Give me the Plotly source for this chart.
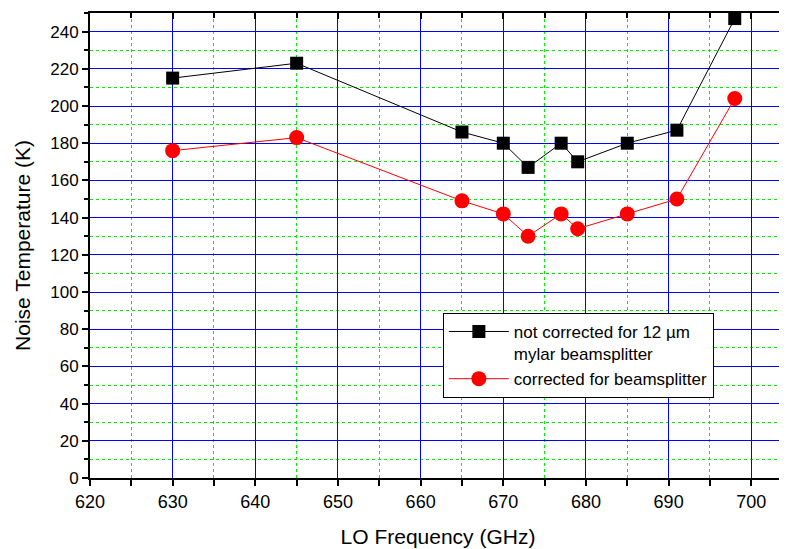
import plotly.graph_objects as go

freq = [630, 645, 665, 670, 673, 677, 679, 685, 691, 698]
not_corrected = [215, 223, 186, 180, 167, 180, 170, 180, 187, 247]
corrected = [176, 183, 149, 142, 130, 142, 134, 142, 150, 204]

name_nc = "not corrected for 12 \u00b5m<br>mylar beamsplitter"
name_c = "corrected for beamsplitter"

FONT = "Liberation Sans, Arial, sans-serif"
XR = [620, 704.2]
YR = [0, 250]

fig = go.Figure()
fig.add_trace(go.Scatter(
    x=freq, y=not_corrected, mode="lines+markers", name=name_nc,
    line=dict(color="black", width=1),
    marker=dict(symbol="square", size=13, color="black"),
))
fig.add_trace(go.Scatter(
    x=freq, y=corrected, mode="lines+markers", name=name_c,
    line=dict(color="red", width=1),
    marker=dict(symbol="circle", size=15, color="red"),
))
# invisible trace to activate mirror axes
fig.add_trace(go.Scatter(x=[XR[0]], y=[YR[0]], xaxis="x2", yaxis="y2",
                         mode="markers", marker=dict(opacity=0),
                         showlegend=False, hoverinfo="skip"))

fig.update_layout(
    width=779, height=541,
    margin=dict(l=82, r=1, t=5, b=71),
    paper_bgcolor="white", plot_bgcolor="white",
    font=dict(family=FONT, color="black"),
    showlegend=True,
    legend=dict(
        x=0.507, y=0.355, xanchor="left", yanchor="top",
        bgcolor="white", bordercolor="black", borderwidth=1,
        font=dict(size=17, family=FONT), valign="top",
        tracegroupgap=0, itemwidth=60,
    ),
    xaxis=dict(
        range=XR, tickmode="linear", tick0=620, dtick=10, automargin=False,
        showline=True, linecolor="black", linewidth=2,
        ticks="outside", ticklen=6, tickwidth=2, tickcolor="black",
        showgrid=True, gridcolor="blue", gridwidth=1,
        zeroline=False,
        tickfont=dict(size=18, family=FONT),
        title=dict(text="LO Frequency (GHz)", font=dict(size=21, family=FONT), standoff=19),
        minor=dict(dtick=5, tick0=620, ticks="outside", ticklen=6, tickwidth=2, tickcolor="black",
                   showgrid=True, gridcolor="#00ee00", griddash="dot", gridwidth=1),
        layer="below traces",
    ),
    yaxis=dict(
        range=YR, tickmode="linear", tick0=0, dtick=20, automargin=False,
        showline=True, linecolor="black", linewidth=2,
        ticks="outside", ticklen=6, tickwidth=2, tickcolor="black",
        showgrid=True, gridcolor="blue", gridwidth=1,
        zeroline=False,
        tickfont=dict(size=17, family=FONT),
        title=dict(text="Noise Temperature (K)", font=dict(size=21, family=FONT), standoff=14),
        minor=dict(dtick=10, tick0=0, ticks="outside", ticklen=4, tickwidth=2, tickcolor="black",
                   showgrid=True, gridcolor="#00ee00", griddash="dot", gridwidth=1),
        layer="below traces",
    ),
    xaxis2=dict(
        overlaying="x", side="top", range=XR, tickmode="linear", tick0=620, dtick=10,
        showline=True, linecolor="black", linewidth=2, automargin=False,
        ticks="inside", ticklen=6, tickwidth=2, tickcolor="black",
        showticklabels=False, showgrid=False, zeroline=False,
        minor=dict(dtick=5, tick0=620, ticks="inside", ticklen=5, tickwidth=2, tickcolor="black"),
    ),
    yaxis2=dict(
        overlaying="y", side="right", range=YR, tickmode="linear", tick0=0, dtick=20,
        showline=True, linecolor="black", linewidth=2, automargin=False,
        ticks="inside", ticklen=6, tickwidth=2, tickcolor="black",
        showticklabels=False, showgrid=False, zeroline=False,
        minor=dict(dtick=10, tick0=0, ticks="inside", ticklen=4, tickwidth=2, tickcolor="black"),
    ),
)

fig.write_html("out.html")
